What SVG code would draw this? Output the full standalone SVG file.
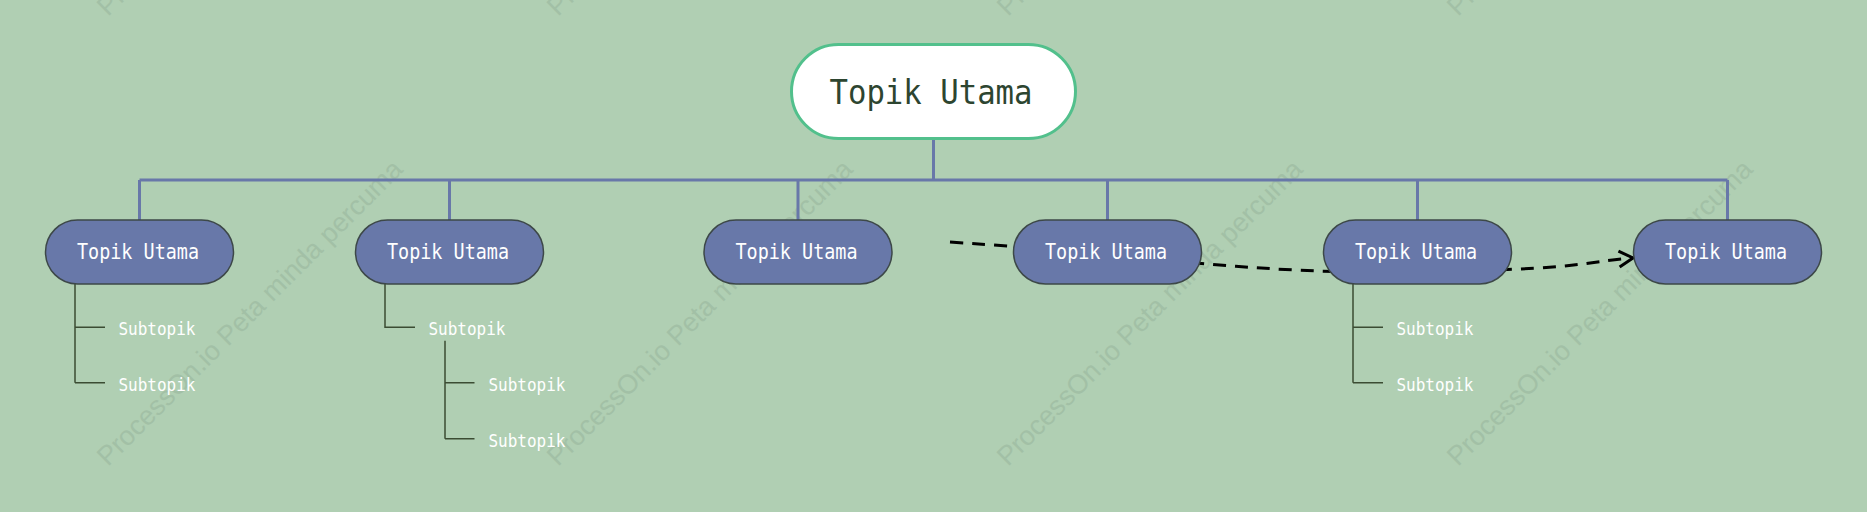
<svg xmlns="http://www.w3.org/2000/svg" width="1867" height="512" viewBox="0 0 1867 512">
<style>
.wm{font-family:"Liberation Sans",Arial,sans-serif;font-size:27px;fill:#98b59c;opacity:0.55}
.topic{fill:#6878a9;stroke:#3d4848;stroke-width:1.5}
.ttext{font-family:"DejaVu Sans Mono","Liberation Mono",monospace;font-size:21px;fill:#ffffff}
.stext{font-family:"DejaVu Sans Mono","Liberation Mono",monospace;font-size:17px;fill:#ffffff}
.blue{stroke:#6878a9;stroke-width:3;fill:none}
.sub{stroke:#3b4c33;stroke-width:1.5;fill:none}
.dash{stroke:#000;stroke-width:3;fill:none;stroke-dasharray:13 9}
</style>
<defs>
<marker id="arr" markerUnits="userSpaceOnUse" markerWidth="20" markerHeight="20" viewBox="-16 -10 20 20" refX="0" refY="0" orient="auto">
<path d="M-14,-8 L0,0 L-14,8" fill="none" stroke="#000" stroke-width="3"/>
</marker>
</defs>
<rect x="0" y="0" width="1867" height="512" fill="#b0cfb3"/>
<g id="watermarks">
<text class="wm" transform="translate(108,467) rotate(-45)">ProcessOn.io Peta minda percuma</text>
<text class="wm" transform="translate(558,467) rotate(-45)">ProcessOn.io Peta minda percuma</text>
<text class="wm" transform="translate(1008,467) rotate(-45)">ProcessOn.io Peta minda percuma</text>
<text class="wm" transform="translate(1458,467) rotate(-45)">ProcessOn.io Peta minda percuma</text>
<text class="wm" transform="translate(108,17) rotate(-45)">ProcessOn.io Peta minda percuma</text>
<text class="wm" transform="translate(558,17) rotate(-45)">ProcessOn.io Peta minda percuma</text>
<text class="wm" transform="translate(1008,17) rotate(-45)">ProcessOn.io Peta minda percuma</text>
<text class="wm" transform="translate(1458,17) rotate(-45)">ProcessOn.io Peta minda percuma</text>
</g>
<g id="connectors">
<path class="blue" d="M933.5,139 V180 M139.5,180 H1727.5 M139.5,180 V220 M449.5,180 V220 M798,180 V220 M1107.5,180 V220 M1417.5,180 V220 M1727.5,180 V220"/>
<path class="sub" d="M75,284 V382.7 M75,327.3 H105 M75,382.7 H105"/>
<path class="sub" d="M385,284 V327.3 H415"/>
<path class="sub" d="M445,340.7 V438.7 M445,382.7 H474.5 M445,438.7 H474.5"/>
<path class="sub" d="M1353,284 V382.7 M1353,327.3 H1383 M1353,382.7 H1383"/>
<path class="dash" d="M950,242 C1150,255 1250,275 1420,272 S1580,262 1633,258" marker-end="url(#arr)"/>
</g>
<g id="root">
<rect x="791.5" y="44.5" width="284" height="94" rx="47" fill="#ffffff" stroke="#52c08c" stroke-width="3"/>
<text x="829.5" y="103.5" font-family="DejaVu Sans Mono, Liberation Mono, monospace" font-size="34" fill="#2d4530" textLength="203" lengthAdjust="spacingAndGlyphs">Topik Utama</text>
</g>
<g id="topic1">
<rect class="topic" x="45.5" y="220" width="188" height="64" rx="32"/>
<text class="ttext" x="77" y="259" textLength="122" lengthAdjust="spacingAndGlyphs">Topik Utama</text>
</g>
<g id="topic2">
<rect class="topic" x="355.5" y="220" width="188" height="64" rx="32"/>
<text class="ttext" x="387" y="259" textLength="122" lengthAdjust="spacingAndGlyphs">Topik Utama</text>
</g>
<g id="topic3">
<rect class="topic" x="704" y="220" width="188" height="64" rx="32"/>
<text class="ttext" x="735.5" y="259" textLength="122" lengthAdjust="spacingAndGlyphs">Topik Utama</text>
</g>
<g id="topic4">
<rect class="topic" x="1013.5" y="220" width="188" height="64" rx="32"/>
<text class="ttext" x="1045" y="259" textLength="122" lengthAdjust="spacingAndGlyphs">Topik Utama</text>
</g>
<g id="topic5">
<rect class="topic" x="1323.5" y="220" width="188" height="64" rx="32"/>
<text class="ttext" x="1355" y="259" textLength="122" lengthAdjust="spacingAndGlyphs">Topik Utama</text>
</g>
<g id="topic6">
<rect class="topic" x="1633.5" y="220" width="188" height="64" rx="32"/>
<text class="ttext" x="1665" y="259" textLength="122" lengthAdjust="spacingAndGlyphs">Topik Utama</text>
</g>
<g id="sub1a"><text class="stext" x="118.5" y="335" textLength="77" lengthAdjust="spacingAndGlyphs">Subtopik</text></g>
<g id="sub1b"><text class="stext" x="118.5" y="390.5" textLength="77" lengthAdjust="spacingAndGlyphs">Subtopik</text></g>
<g id="sub2a"><text class="stext" x="428.5" y="335" textLength="77" lengthAdjust="spacingAndGlyphs">Subtopik</text></g>
<g id="sub2a1"><text class="stext" x="488.5" y="390.5" textLength="77" lengthAdjust="spacingAndGlyphs">Subtopik</text></g>
<g id="sub2a2"><text class="stext" x="488.5" y="446.5" textLength="77" lengthAdjust="spacingAndGlyphs">Subtopik</text></g>
<g id="sub5a"><text class="stext" x="1396.5" y="335" textLength="77" lengthAdjust="spacingAndGlyphs">Subtopik</text></g>
<g id="sub5b"><text class="stext" x="1396.5" y="390.5" textLength="77" lengthAdjust="spacingAndGlyphs">Subtopik</text></g>
</svg>
